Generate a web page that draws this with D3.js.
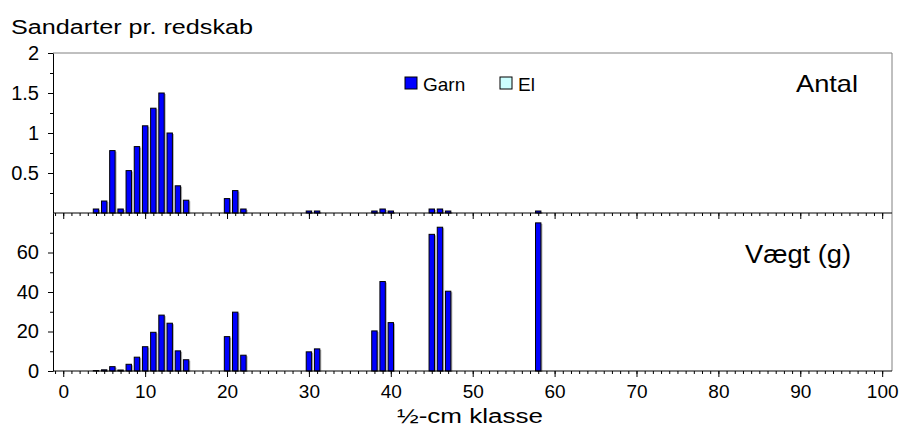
<!DOCTYPE html>
<html>
<head>
<meta charset="utf-8">
<script src="https://cdn.jsdelivr.net/npm/d3@7"></script>
<style>
  body { margin: 0; background: #fff; }
  svg { font-family: "Liberation Sans", Arial, sans-serif; }
</style>
</head>
<body>
<script>
// ½-cm classes with catches (Garn); El has no catches
let classes = [4, 5, 6, 7, 8, 9, 10, 11, 12, 13, 14, 15, 20, 21, 22, 30, 31, 38, 39, 40, 45, 46, 47, 58];
let antal = [0.05, 0.15, 0.78, 0.05, 0.53, 0.83, 1.09, 1.31, 1.5, 1.0, 0.34, 0.16, 0.18, 0.28, 0.05, 0.025, 0.025, 0.025, 0.05, 0.025, 0.05, 0.05, 0.025, 0.025];
let vaegt = [0.2, 0.6, 2.2, 0.5, 3.4, 7, 12.3, 19.6, 28.3, 24.2, 10.2, 5.7, 17.4, 29.8, 8.0, 9.7, 11.2, 20.3, 45.3, 24.5, 69.2, 72.8, 40.4, 75];
let seriesNames = ["Garn", "El"];
let seriesColors = ["#0000ff", "#ccffff"];
let xTicks = d3.range(0, 101, 10);
let antalTicks = [0.5, 1, 1.5, 2];
let vaegtTicks = [0, 20, 40, 60];

let width = 902, height = 427;
let left = 53, right = 892;
let topY = 53, midY = 213, botY = 371;

let svg = d3.select("body").append("svg")
    .attr("width", width)
    .attr("height", height);

let x = d3.scaleLinear().domain([-1.25, 101.2]).range([left, right]);
let yTop = d3.scaleLinear().domain([0, 2]).range([midY, topY]);
let yBot = d3.scaleLinear().domain([0, 80]).range([botY, midY]);

let barW = 5.4;

// frame (top + right, grey)
svg.append("path")
    .attr("d", `M${left},${topY}H${right}V${botY}`)
    .attr("fill", "none")
    .attr("stroke", "#808080")
    .attr("stroke-width", 1);

function drawBars(yScale, values) {
    let data = classes.map((c, i) => ({c: c, v: values[i]}));
    let g = svg.append("g");
    // shadow
    g.selectAll("rect.shadow")
        .data(data).enter().append("rect")
        .attr("class", "shadow")
        .attr("x", d => x(d.c) - barW / 2 + 1.5)
        .attr("y", d => yScale(d.v) + 1)
        .attr("width", barW)
        .attr("height", d => yScale(0) - yScale(d.v))
        .attr("fill", "#b0b0b0");
    g.selectAll("rect.bar")
        .data(data).enter().append("rect")
        .attr("class", "bar")
        .attr("x", d => x(d.c) - barW / 2)
        .attr("y", d => yScale(d.v))
        .attr("width", barW)
        .attr("height", d => yScale(0) - yScale(d.v))
        .attr("fill", seriesColors[0])
        .attr("stroke", "#000")
        .attr("stroke-width", 1);
}
drawBars(yTop, antal);
drawBars(yBot, vaegt);

function styleAxis(size) {
    return function(g) {
        g.select(".domain").attr("stroke", "#000");
        g.selectAll(".tick line").attr("stroke", "#000");
        g.selectAll("text").attr("fill", "#000").style("font-size", size + "px");
    };
}

// x axes: minor ticks
[midY, botY].forEach(yy => {
    svg.append("g")
        .attr("transform", `translate(0,${yy})`)
        .call(d3.axisBottom(x).tickValues(d3.range(-1, 101)).tickSize(3).tickFormat(""))
        .call(g => g.select(".domain").remove())
        .call(styleAxis(19));
});
// top panel major ticks
svg.append("g")
    .attr("transform", `translate(0,${midY})`)
    .call(d3.axisBottom(x).tickValues(xTicks).tickSize(6).tickFormat("").tickSizeOuter(0))
    .call(g => g.select(".domain").attr("d", `M${left},0H${right}`))
    .call(styleAxis(19));
// bottom panel major ticks with labels
svg.append("g")
    .attr("transform", `translate(0,${botY})`)
    .call(d3.axisBottom(x).tickValues(xTicks).tickSize(6).tickPadding(8).tickSizeOuter(0))
    .call(g => g.select(".domain").attr("d", `M${left},0H${right}`))
    .call(styleAxis(19));

// y axes
svg.append("g")
    .attr("transform", `translate(${left},0)`)
    .call(d3.axisLeft(yTop).tickValues(d3.range(0.25, 2.01, 0.25)).tickSize(3).tickFormat("").tickSizeOuter(0))
    .call(styleAxis(20));
svg.append("g")
    .attr("transform", `translate(${left},0)`)
    .call(d3.axisLeft(yTop).tickValues(antalTicks).tickSize(5).tickPadding(9).tickFormat(d3.format("")).tickSizeOuter(0))
    .call(g => g.select(".domain").remove())
    .call(styleAxis(20));
svg.append("g")
    .attr("transform", `translate(${left},0)`)
    .call(d3.axisLeft(yBot).tickValues([10, 30, 50, 70]).tickSize(3).tickFormat("").tickSizeOuter(0))
    .call(styleAxis(20));
svg.append("g")
    .attr("transform", `translate(${left},0)`)
    .call(d3.axisLeft(yBot).tickValues(vaegtTicks).tickSize(5).tickPadding(9).tickSizeOuter(0))
    .call(g => g.select(".domain").remove())
    .call(styleAxis(20));

// legend
let legend = svg.append("g");
[405, 500].forEach((lx, i) => {
    legend.append("rect")
        .attr("x", lx).attr("y", 77)
        .attr("width", 12).attr("height", 12)
        .attr("fill", seriesColors[i])
        .attr("stroke", "#000");
    legend.append("text")
        .attr("x", lx + 18).attr("y", 91)
        .style("font-size", "19px")
        .text(seriesNames[i]);
});

// texts
svg.append("text")
    .attr("x", 11).attr("y", 34)
    .attr("textLength", 242).attr("lengthAdjust", "spacingAndGlyphs")
    .style("font-size", "20px")
    .text("Sandarter pr. redskab");
svg.append("text")
    .attr("x", 796).attr("y", 92)
    .attr("textLength", 62).attr("lengthAdjust", "spacingAndGlyphs")
    .style("font-size", "24px")
    .text("Antal");
svg.append("text")
    .attr("x", 745).attr("y", 263)
    .attr("textLength", 106).attr("lengthAdjust", "spacingAndGlyphs")
    .style("font-size", "26px")
    .text("Vægt (g)");
svg.append("text")
    .attr("x", 397).attr("y", 423)
    .attr("textLength", 146).attr("lengthAdjust", "spacingAndGlyphs")
    .style("font-size", "20px")
    .text("½-cm klasse");
</script>
</body>
</html>
